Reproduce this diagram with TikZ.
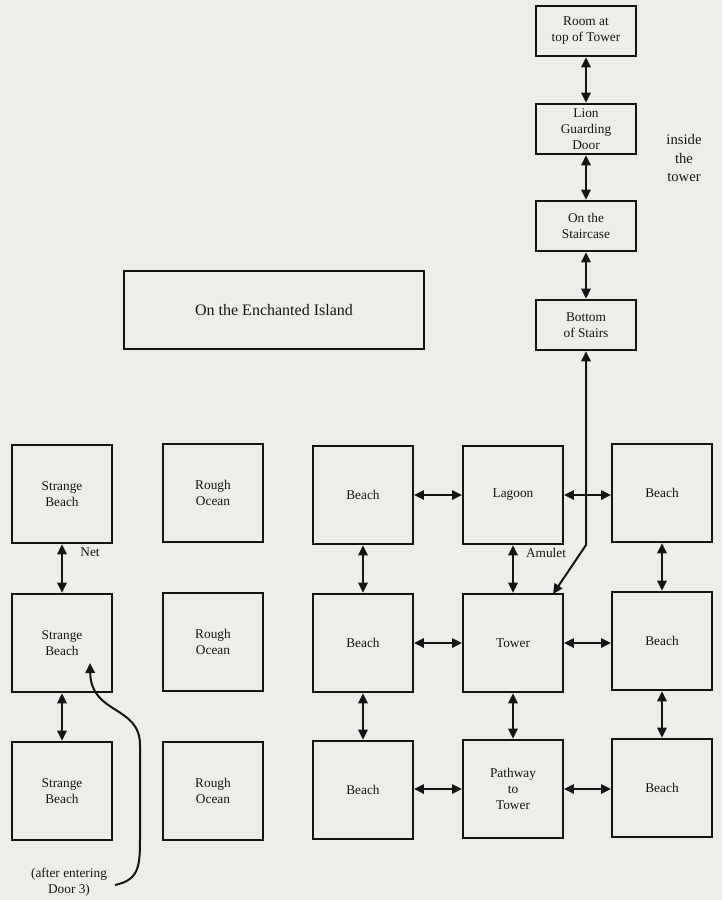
\documentclass[tikz,border=0pt]{standalone}
\usepackage{fontspec}
\setmainfont{Liberation Serif}
\usetikzlibrary{arrows.meta}
\definecolor{paper}{RGB}{238,238,233}
\definecolor{ink}{RGB}{20,20,20}
\begin{document}
\begin{tikzpicture}[x=0.75pt,y=-0.75pt,
  room/.style={draw=ink,line width=1.4pt,fill=paper,minimum width=75pt,minimum height=74pt,
    align=center,font=\fontsize{10}{12}\selectfont,text=ink,inner sep=1pt},
  troom/.style={room,minimum width=75.5pt,minimum height=38pt},
  link/.style={draw=ink,line width=1.5pt,{Triangle[length=7.5pt,width=7pt]}-{Triangle[length=7.5pt,width=7pt]}},
  lab/.style={font=\fontsize{10}{12}\selectfont,text=ink,align=center,inner sep=0pt}]
\fill[paper] (0,0) rectangle (722,900);
\useasboundingbox (0,0) rectangle (722,900);
% title
\node[draw=ink,line width=1.3pt,minimum width=225pt,minimum height=58pt,font=\fontsize{12}{14}\selectfont,text=ink] (title) at (274,310) {On the Enchanted Island};
% tower interior
\node[troom] (room) at (586,31) {Room at\\top of Tower};
\node[troom] (lion) at (586,129) {Lion\\Guarding\\Door};
\node[troom] (stair) at (586,226) {On the\\Staircase};
\node[troom] (bottom) at (586,325) {Bottom\\of Stairs};
\node[lab,font=\fontsize{11}{14}\selectfont] (inside) at (684,158) {inside\\the\\tower};
% grid
\node[room] (sb1) at (62,494) {Strange\\Beach};
\node[room] (sb2) at (62,643) {Strange\\Beach};
\node[room] (sb3) at (62,791) {Strange\\Beach};
\node[room] (ro1) at (213,493) {Rough\\Ocean};
\node[room] (ro2) at (213,642) {Rough\\Ocean};
\node[room] (ro3) at (213,791) {Rough\\Ocean};
\node[room] (b1) at (363,495) {Beach};
\node[room] (b2) at (363,643) {Beach};
\node[room] (b3) at (363,790) {Beach};
\node[room] (lagoon) at (513,495) {Lagoon};
\node[room] (tower) at (513,643) {Tower};
\node[room] (path) at (513,789) {Pathway\\to\\Tower};
\node[room] (e1) at (662,493) {Beach};
\node[room] (e2) at (662,641) {Beach};
\node[room] (e3) at (662,788) {Beach};
% labels
\node[lab] (net) at (90,552) {Net};
\node[lab] (amulet) at (546,553) {Amulet};
\node[lab] (door) at (69,882) {(after entering\\Door 3)};
% tower links
\draw[link] (room) -- (lion);
\draw[link] (lion) -- (stair);
\draw[link] (stair) -- (bottom);
\coordinate (bend) at (586,545);
\coordinate (tin) at (553,594);
\draw[link] (bottom.south) -- (bend) -- (tin);
% grid links
\draw[link] (sb1) -- (sb2);
\draw[link] (sb2) -- (sb3);
\draw[link] (b1) -- (b2);
\draw[link] (b2) -- (b3);
\draw[link] (lagoon) -- (tower);
\draw[link] (tower) -- (path);
\draw[link] (e1) -- (e2);
\draw[link] (e2) -- (e3);
\draw[link] (b1.east) -- (lagoon.west);
\draw[link] (lagoon.east) -- (e1.west|-lagoon.east);
\draw[link] (b2) -- (tower);
\draw[link] (tower) -- (e2.west|-tower.east);
\draw[link] (b3.east|-path.west) -- (path.west);
\draw[link] (path.east) -- (e3.west|-path.east);
% door 3 curve
\coordinate (dstart) at (115,885);
\coordinate (dend) at (90,663);
\draw[draw=ink,line width=1.5pt,-{Triangle[length=7.5pt,width=7pt]}] (dstart) .. controls (138,880) and (140,868) .. (140,840) -- (140,745) .. controls (140,705) and (91,715) .. (dend);
\end{tikzpicture}
\end{document}
